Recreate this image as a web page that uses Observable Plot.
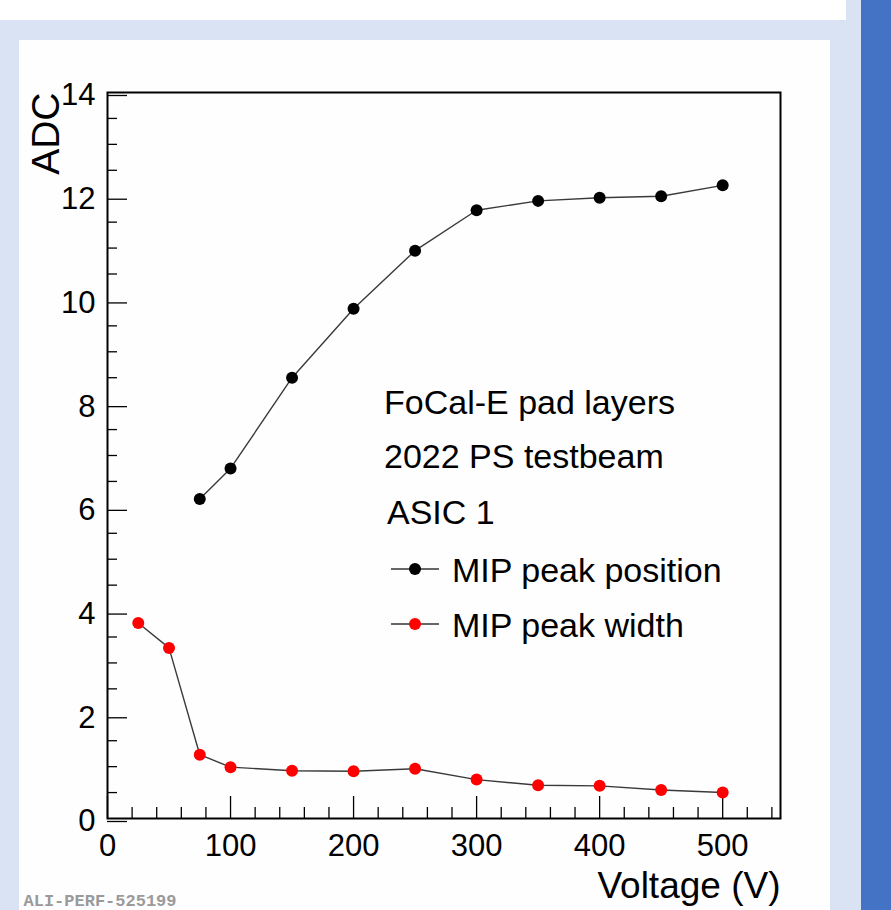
<!DOCTYPE html>
<html>
<head>
<meta charset="utf-8">
<script src="https://cdn.jsdelivr.net/npm/d3@7"></script>
<script src="https://cdn.jsdelivr.net/npm/@observablehq/plot@0.6"></script>
<style>
  html, body { margin: 0; padding: 0; }
  body { width: 891px; height: 910px; position: relative; overflow: hidden; background: #dae3f3; }
  #topstrip { position: absolute; left: 0; top: 0; width: 846px; height: 20px; background: #ffffff; }
  #panel { position: absolute; left: 19px; top: 40px; width: 811px; height: 870px; background: #fefefe; }
  #sidebar { position: absolute; left: 861px; top: 0; width: 30px; height: 910px; background: #4472c4; }
  #chart { position: absolute; left: 0; top: 0; }
</style>
</head>
<body>
<div id="topstrip"></div>
<div id="panel"></div>
<div id="sidebar"></div>
<div id="chart"></div>
<script>
// Bias voltage scan (V)
const voltagePeak = [75, 100, 150, 200, 250, 300, 350, 400, 450, 500];
const peakPosition = [6.16, 6.75, 8.50, 9.83, 10.95, 11.73, 11.91, 11.97, 12.00, 12.21];

const voltageWidth = [25, 50, 75, 100, 150, 200, 250, 300, 350, 400, 450, 500];
const peakWidth = [3.77, 3.29, 1.23, 0.99, 0.92, 0.91, 0.96, 0.75, 0.64, 0.63, 0.55, 0.50];

// Axis ticks
const xMajorTicks = [0, 100, 200, 300, 400, 500];
const yMajorTicks = [0, 2, 4, 6, 8, 10, 12, 14];
const xMinorTicks = d3.range(20, 547, 20).filter(v => v % 100 !== 0);
const yMinorTicks = d3.range(0.5, 14, 0.5).filter(v => v % 2 !== 0);

// Legend / annotation text
const infoLines = ["FoCal-E pad layers", "2022 PS testbeam", "ASIC 1"];
const seriesNames = ["MIP peak position", "MIP peak width"];
const seriesColors = ["#000000", "#ff0000"];

const peakData = voltagePeak.map((v, i) => ({voltage: v, adc: peakPosition[i]}));
const widthData = voltageWidth.map((v, i) => ({voltage: v, adc: peakWidth[i]}));

const font = "'Liberation Sans', Arial, Helvetica, sans-serif";

// Legend drawn as a custom mark: line + marker swatch followed by the label
function legendMark(index, scales, values, dimensions) {
  const g = d3.create("svg:g")
    .attr("font-family", font)
    .attr("font-size", 34)
    .attr("text-anchor", "start")
    .attr("fill", "#000");
  const info = [[384, 414], [384, 468], [387, 524]];
  infoLines.forEach((t, i) => {
    g.append("text").attr("x", info[i][0]).attr("y", info[i][1]).text(t);
  });
  const rows = [569, 624];
  seriesNames.forEach((name, i) => {
    const y = rows[i];
    g.append("line").attr("x1", 391).attr("x2", 439).attr("y1", y).attr("y2", y)
      .attr("stroke", "#333").attr("stroke-width", 1.4);
    g.append("circle").attr("cx", 415).attr("cy", y).attr("r", 6).attr("fill", seriesColors[i]);
    g.append("text").attr("x", 452).attr("y", y + 13).text(name);
  });
  return g.node();
}

const chart = Plot.plot({
  width: 891,
  height: 910,
  marginLeft: 107,
  marginRight: 111,
  marginTop: 92,
  marginBottom: 92,
  style: {background: "transparent", fontFamily: font, color: "#000"},
  x: {domain: [0, 547], axis: null},
  y: {domain: [0, 14], axis: null},
  marks: [
    // inward ROOT-style ticks
    Plot.axisX(xMinorTicks, {anchor: "bottom", tickSize: -11, text: null, label: null, strokeWidth: 1.3}),
    Plot.axisX(xMajorTicks, {anchor: "bottom", tickSize: -22, tickPadding: 37, label: null, strokeWidth: 1.3, fontSize: 31, tickFormat: d => String(d)}),
    Plot.axisY(yMinorTicks, {anchor: "left", tickSize: -10, text: null, label: null, strokeWidth: 1.3}),
    Plot.axisY(yMajorTicks, {anchor: "left", tickSize: -20, tickPadding: 32, label: null, strokeWidth: 1.3, fontSize: 31, dy: 3, tickFormat: d => String(d)}),
    Plot.frame({stroke: "#000", strokeWidth: 2}),
    // series
    Plot.line(peakData, {x: "voltage", y: "adc", stroke: "#3a3a3a", strokeWidth: 1.4}),
    Plot.dot(peakData, {x: "voltage", y: "adc", r: 6, fill: seriesColors[0], stroke: null}),
    Plot.line(widthData, {x: "voltage", y: "adc", stroke: "#3a3a3a", strokeWidth: 1.4}),
    Plot.dot(widthData, {x: "voltage", y: "adc", r: 6, fill: seriesColors[1], stroke: null}),
    // axis titles
    Plot.text(["Voltage (V)"], {frameAnchor: "bottom-right", textAnchor: "end", lineAnchor: "bottom", dy: 79, fontSize: 37, fill: "#000"}),
    Plot.text(["ADC"], {frameAnchor: "top-left", textAnchor: "end", lineAnchor: "bottom", rotate: -90, dx: -49, fontSize: 39, fill: "#000"}),
    // performance figure id
    Plot.text(["ALI-PERF-525199"], {frameAnchor: "bottom-left", textAnchor: "start", lineAnchor: "bottom", dx: -84, dy: 87, fontSize: 17, fontWeight: "bold", fontFamily: "'Liberation Mono', 'DejaVu Sans Mono', monospace", fill: "#9a9a9a"}),
    legendMark
  ]
});

document.getElementById("chart").appendChild(chart);
</script>
</body>
</html>
